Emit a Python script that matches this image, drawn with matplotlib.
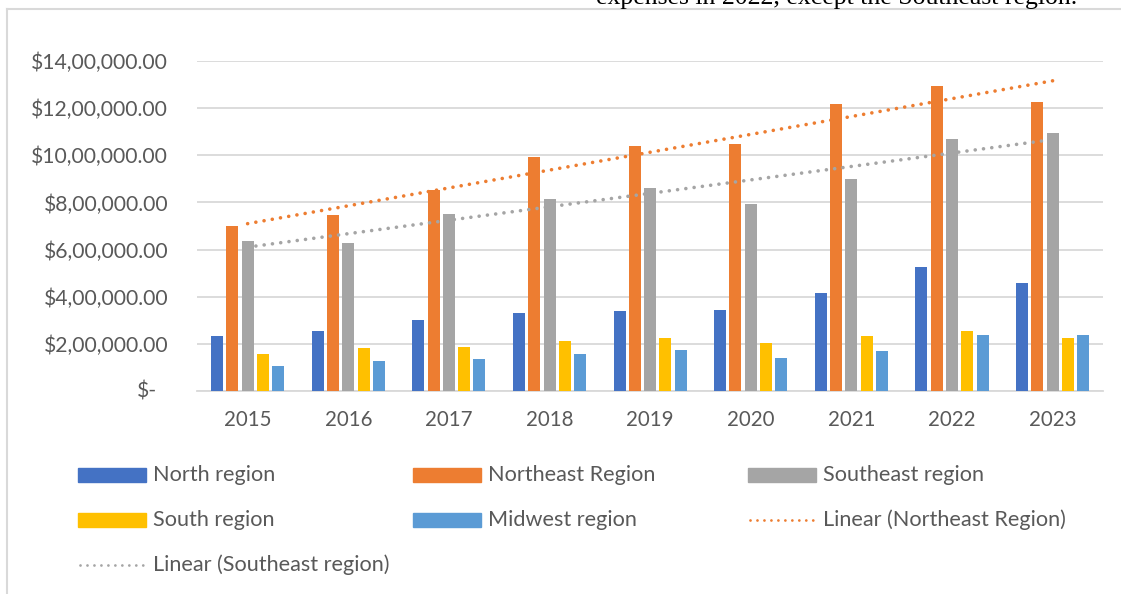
import numpy as np
import matplotlib
matplotlib.use("Agg")
import matplotlib.pyplot as plt
from matplotlib.patches import Rectangle
from matplotlib.lines import Line2D
from matplotlib.ticker import FuncFormatter, MultipleLocator

# ---- data -------------------------------------------------------------
years = ["2015", "2016", "2017", "2018", "2019", "2020", "2021", "2022", "2023"]
north = [233000, 256000, 300000, 333000, 338000, 342000, 414000, 525000, 460000]
northeast = [699000, 746000, 852000, 992000, 1040000, 1050000, 1216000, 1294000, 1228000]
southeast = [638000, 628000, 753000, 813000, 860000, 792000, 898000, 1070000, 1095000]
south = [159000, 184000, 186000, 212000, 223000, 203000, 234000, 253000, 226000]
midwest = [108000, 128000, 135000, 159000, 172000, 138000, 168000, 236000, 236000]

series_names = ["North region", "Northeast Region", "Southeast region",
                "South region", "Midwest region"]
series_values = [north, northeast, southeast, south, midwest]
colors = ["#4472C4", "#ED7D31", "#A5A5A5", "#FFC000", "#5B9BD5"]

TEXT = "#595959"
GRID = "#D9D9D9"
FONT = "Lato"

W, H = 1121, 594
fig = plt.figure(figsize=(W / 100, H / 100), dpi=100)

def fx(px):
    return px / W

def fy(py):
    return 1 - py / H

ax = fig.add_axes([fx(197.3), fy(391), fx(1103) - fx(197.3), fy(61) - fy(391)])

x = np.arange(len(years))
pitch = 0.152
width = 0.119
for i, (vals, col) in enumerate(zip(series_values, colors)):
    ax.bar(x + (i - 2) * pitch, vals, width=width, color=col, zorder=3)

# linear trend lines
dot_style = dict(linestyle=(0, (0.01, 2.3)), dash_capstyle="round", lw=2.6, zorder=4)
for vals, col in [(northeast, "#ED7D31"), (southeast, "#A5A5A5")]:
    k, b = np.polyfit(x, vals, 1)
    ax.plot(x, k * x + b, color=col, **dot_style)

ax.set_xlim(-0.5, len(years) - 0.5)
ax.set_ylim(0, 1400000)
ax.yaxis.set_major_locator(MultipleLocator(200000))


def lakh(v, pos=None):
    if v == 0:
        return ""
    v = int(round(v))
    s = str(v)
    last3, rest = s[-3:], s[:-3]
    groups = []
    while len(rest) > 2:
        groups.insert(0, rest[-2:])
        rest = rest[:-2]
    if rest:
        groups.insert(0, rest)
    return "$" + ",".join(groups + [last3]) + ".00"


ax.yaxis.set_major_formatter(FuncFormatter(lakh))
ax.text(-(197.3 - 157) / 905.7, 0, "$-", transform=ax.get_yaxis_transform(),
        ha="right", va="center", fontsize=15.2, family=FONT, color=TEXT)

ax.set_xticks(x)
ax.set_xticklabels(years)
ax.tick_params(axis="both", length=0, labelcolor=TEXT)
ax.tick_params(axis="y", pad=21, labelsize=15.2)
ax.tick_params(axis="x", pad=14, labelsize=14.8)
for lab in ax.get_xticklabels() + ax.get_yticklabels():
    lab.set_family(FONT)

ax.grid(axis="y", color=GRID, lw=1.3, zorder=0)
for side in ["top", "right", "left"]:
    ax.spines[side].set_visible(False)
ax.spines["bottom"].set_color(GRID)
ax.spines["bottom"].set_linewidth(1.3)

# ---- legend, laid out in rows ---------------------------------------
cols_px = [78, 413, 748]
rows_px = [475, 520, 565]
entries = [(n, c, "bar") for n, c in zip(series_names, colors)]
entries += [("Linear (Northeast Region)", "#ED7D31", "line"),
            ("Linear (Southeast region)", "#A5A5A5", "line")]
for k, (name, col, kind) in enumerate(entries):
    cx = cols_px[k % 3]
    cy = rows_px[k // 3]
    if kind == "bar":
        fig.patches.append(Rectangle((fx(cx), fy(cy + 7)), fx(68), 14 / H,
                                     transform=fig.transFigure, color=col))
    else:
        fig.lines.append(Line2D([fx(cx + 2), fx(cx + 66)], [fy(cy), fy(cy)],
                                transform=fig.transFigure, color=col, lw=2.0,
                                linestyle=(0, (0.01, 2.5)), dash_capstyle="round"))
    fig.text(fx(cx + 75), fy(cy), name, ha="left", va="center",
             fontsize=15.6, family=FONT, color=TEXT)

# ---- chart frame and the document line above it ---------------------
fig.lines.append(Line2D([fx(7), fx(7)], [fy(9), 0], transform=fig.transFigure,
                        color=GRID, lw=1.5))
fig.lines.append(Line2D([fx(7), 1], [fy(9), fy(9)], transform=fig.transFigure,
                        color=GRID, lw=1.5))
fig.text(fx(837), fy(4), "expenses in 2022, except the Southeast region.",
         ha="center", va="baseline", fontsize=18.5, family="Liberation Serif",
         color="black")

fig.savefig("out.png", dpi=100, facecolor="white")
